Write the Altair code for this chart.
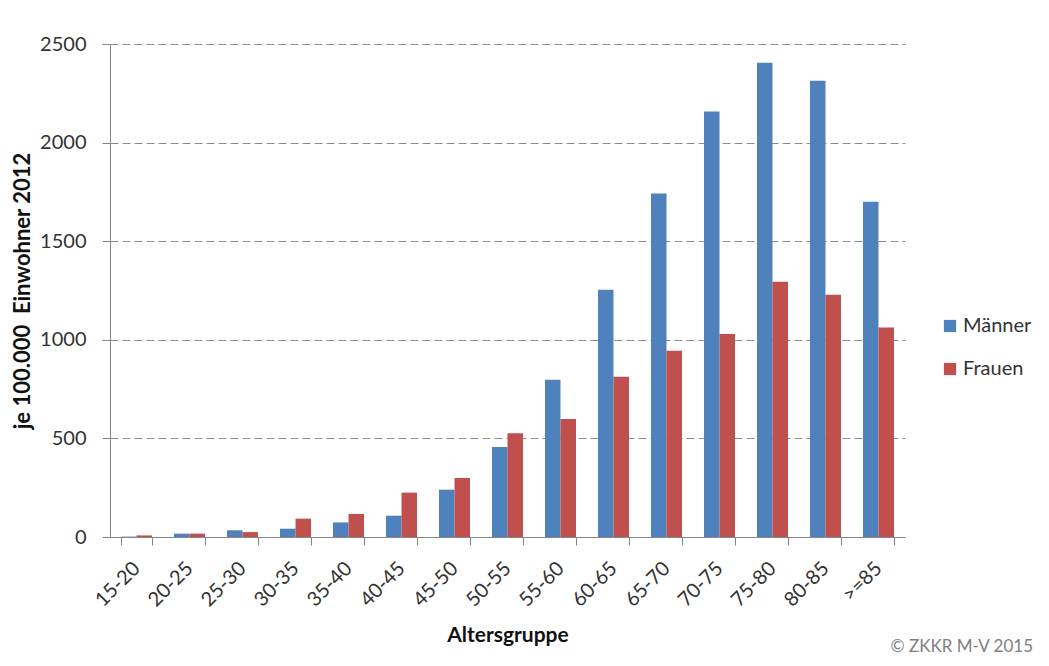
import altair as alt
import pandas as pd

kategorien = ["15-20", "20-25", "25-30", "30-35", "35-40", "40-45", "45-50", "50-55",
              "55-60", "60-65", "65-70", "70-75", "75-80", "80-85", ">=85"]
maenner = [2, 17, 34, 42, 74, 108, 240, 457, 798, 1254, 1742, 2158, 2405, 2314, 1700]
frauen = [8, 17, 25, 93, 117, 225, 299, 526, 598, 813, 945, 1029, 1295, 1229, 1063]
serien = ["Männer", "Frauen"]
farben = ["#4F81BD", "#C0504D"]
y_ticks = [0, 500, 1000, 1500, 2000, 2500]
quelle = ["© ZKKR M-V 2015"]

rows = []
for k, m, f in zip(kategorien, maenner, frauen):
    rows.append({"Altersgruppe": k, "Geschlecht": "Männer", "Wert": m})
    rows.append({"Altersgruppe": k, "Geschlecht": "Frauen", "Wert": f})
df = pd.DataFrame(rows)

FONT = "Lato"

bars = alt.Chart(df).mark_bar().encode(
    x=alt.X("Altersgruppe:N", sort=kategorien,
            scale=alt.Scale(paddingInner=0.415, paddingOuter=0.2075),
            axis=alt.Axis(title="Altersgruppe", labelAngle=-45, labelAlign="right",
                          labelBaseline="middle", labelPadding=20, tickBand="extent",
                          tickSize=8, grid=False, titlePadding=14)),
    xOffset=alt.XOffset("Geschlecht:N", sort=serien, scale=alt.Scale(paddingInner=0, paddingOuter=0)),
    y=alt.Y("Wert:Q", scale=alt.Scale(domain=[0, 2500], nice=False),
            axis=alt.Axis(title="je 100.000\u00a0 Einwohner 2012", values=y_ticks, format="d",
                          tickSize=8, labelPadding=16, grid=True, gridDash=[8, 4],
                          gridColor="#8c8c8c", titlePadding=5, titleFontSize=22)),
    color=alt.Color("Geschlecht:N", sort=serien,
                    scale=alt.Scale(domain=serien, range=farben),
                    legend=alt.Legend(title=None, orient="none", legendX=830, legendY=272,
                                      symbolType="square", symbolSize=150, labelFontSize=20,
                                      rowPadding=23, labelFont=FONT, labelColor="#333333",
                                      labelOffset=3, symbolStrokeWidth=0)),
)

text = alt.Chart(pd.DataFrame({"t": quelle})).mark_text(
    align="right", baseline="alphabetic", fontSize=17, color="#808080", font=FONT
).encode(x=alt.value(923), y=alt.value(608), text="t:N")

chart = alt.layer(bars, text).properties(
    width=795, height=493,
    autosize=alt.AutoSizeParams(type="none"),
    padding={"left": 102, "top": 36, "right": 136, "bottom": 121},
).configure_view(stroke=None).configure_axis(
    domainColor="#868686", tickColor="#868686", labelFont=FONT, titleFont=FONT,
    labelFontSize=20, titleFontSize=21, labelColor="#333333", titleColor="#111111",
    titleFontWeight="bold",
)

chart.save("out.html", embed_options={"renderer": "svg", "actions": False})
